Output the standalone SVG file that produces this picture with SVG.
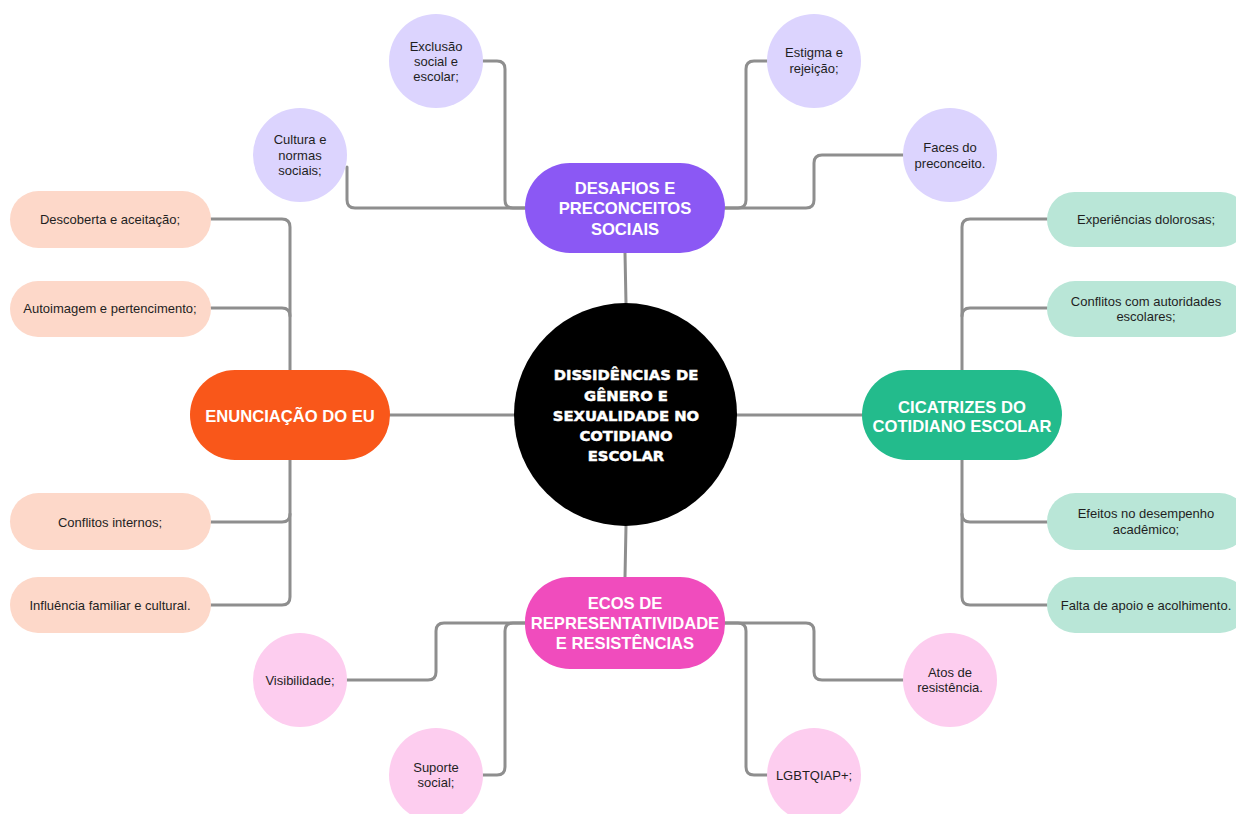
<svg xmlns="http://www.w3.org/2000/svg" width="1236" height="814" viewBox="0 0 1236 814">
<style>
.c{fill:none;stroke:#8e8e8e;stroke-width:3;stroke-linejoin:round;stroke-linecap:round}
.lt{font-family:"Liberation Sans",Arial,sans-serif;font-size:13px;fill:#1f1f1f;text-anchor:middle}
.bt{font-family:"Liberation Sans",Arial,sans-serif;font-size:16.6px;font-weight:bold;fill:#ffffff;text-anchor:middle}
.ct{font-family:"DejaVu Sans",sans-serif;font-size:14.8px;font-weight:bold;fill:#ffffff;stroke:#ffffff;stroke-width:0.5;text-anchor:middle}
.lav{fill:#DCD4FE}.pea{fill:#FDD8C9}.min{fill:#B9E6D7}.pnk{fill:#FDCDEF}
</style>
<rect width="1236" height="814" fill="#ffffff"/>
<g id="connectors">
<path class="c" d="M625,253 L626,303"/>
<path class="c" d="M626,526 L625,577"/>
<path class="c" d="M390,415 H514"/>
<path class="c" d="M737,415 H862"/>
<path class="c" d="M483,61 H497 Q505,61 505,69 V200 Q505,208 513,208 H525"/>
<path class="c" d="M347,167 V200 Q347,208 355,208 H525"/>
<path class="c" d="M767,61 H754 Q746,61 746,69 V200 Q746,208 738,208 H725"/>
<path class="c" d="M903,155 H822 Q814,155 814,163 V200 Q814,208 806,208 H725"/>
<path class="c" d="M211,219 H282 Q290,219 290,227 V370"/>
<path class="c" d="M211,308 H282 Q290,308 290,316"/>
<path class="c" d="M290,460 V514 Q290,522 282,522 H211"/>
<path class="c" d="M290,514 V597 Q290,605 282,605 H211"/>
<path class="c" d="M1047,219 H970 Q962,219 962,227 V370"/>
<path class="c" d="M1047,308 H970 Q962,308 962,316"/>
<path class="c" d="M962,460 V514 Q962,522 970,522 H1047"/>
<path class="c" d="M962,514 V597 Q962,605 970,605 H1047"/>
<path class="c" d="M347,680 H428 Q436,680 436,672 V631 Q436,623 444,623 H525"/>
<path class="c" d="M483,775 H497 Q505,775 505,767 V631 Q505,623 513,623 H525"/>
<path class="c" d="M725,623 H806 Q814,623 814,631 V672 Q814,680 822,680 H903"/>
<path class="c" d="M725,623 H738 Q746,623 746,631 V767 Q746,775 754,775 H767"/>
</g>
<g id="center">
<circle cx="625.5" cy="414.5" r="111.5" fill="#000000"/>
<text class="ct" x="626" y="380">DISSIDÊNCIAS DE</text>
<text class="ct" x="626" y="401">GÊNERO E</text>
<text class="ct" x="626" y="421">SEXUALIDADE NO</text>
<text class="ct" x="626" y="441">COTIDIANO</text>
<text class="ct" x="626" y="461">ESCOLAR</text>
</g>
<g id="desafios">
<rect x="525" y="163" width="200" height="90" rx="45" fill="#8B58F4"/>
<text class="bt" x="625" y="194">DESAFIOS E</text>
<text class="bt" x="625" y="214">PRECONCEITOS</text>
<text class="bt" x="625" y="235">SOCIAIS</text>
</g>
<g id="enunciacao">
<rect x="190" y="370" width="200" height="90" rx="45" fill="#F9571A"/>
<text class="bt" x="290" y="422">ENUNCIAÇÃO DO EU</text>
</g>
<g id="cicatrizes">
<rect x="862" y="370" width="200" height="90" rx="45" fill="#23BB8C"/>
<text class="bt" x="962" y="413">CICATRIZES DO</text>
<text class="bt" x="962" y="432">COTIDIANO ESCOLAR</text>
</g>
<g id="ecos">
<rect x="525" y="577" width="200" height="92" rx="45" fill="#F04CBD"/>
<text class="bt" x="625" y="609">ECOS DE</text>
<text class="bt" x="625" y="629">REPRESENTATIVIDADE</text>
<text class="bt" x="625" y="649">E RESISTÊNCIAS</text>
</g>
<g id="exclusao">
<circle class="lav" cx="436" cy="61" r="47"/>
<text class="lt" x="436" y="51">Exclusão</text>
<text class="lt" x="436" y="66">social e</text>
<text class="lt" x="436" y="81">escolar;</text>
</g>
<g id="cultura">
<circle class="lav" cx="300" cy="155" r="47"/>
<text class="lt" x="300" y="144">Cultura e</text>
<text class="lt" x="300" y="160">normas</text>
<text class="lt" x="300" y="175">sociais;</text>
</g>
<g id="estigma">
<circle class="lav" cx="814" cy="61" r="47"/>
<text class="lt" x="814" y="57">Estigma e</text>
<text class="lt" x="814" y="73">rejeição;</text>
</g>
<g id="faces">
<circle class="lav" cx="950" cy="155" r="47"/>
<text class="lt" x="950" y="152">Faces do</text>
<text class="lt" x="950" y="168">preconceito.</text>
</g>
<g id="descoberta">
<rect class="pea" x="10" y="191" width="201" height="57" rx="28.5"/>
<text class="lt" x="110" y="224">Descoberta e aceitação;</text>
</g>
<g id="autoimagem">
<rect class="pea" x="10" y="281" width="201" height="56" rx="28"/>
<text class="lt" x="110" y="313">Autoimagem e pertencimento;</text>
</g>
<g id="conflitos-internos">
<rect class="pea" x="10" y="493" width="201" height="57" rx="28.5"/>
<text class="lt" x="110" y="527">Conflitos internos;</text>
</g>
<g id="influencia">
<rect class="pea" x="10" y="577" width="201" height="56" rx="28"/>
<text class="lt" x="110" y="610">Influência familiar e cultural.</text>
</g>
<g id="experiencias">
<rect class="min" x="1047" y="192" width="201" height="55" rx="27.5"/>
<text class="lt" x="1146" y="224">Experiências dolorosas;</text>
</g>
<g id="conflitos-autoridades">
<rect class="min" x="1047" y="281" width="201" height="56" rx="28"/>
<text class="lt" x="1146" y="306">Conflitos com autoridades</text>
<text class="lt" x="1146" y="321">escolares;</text>
</g>
<g id="efeitos">
<rect class="min" x="1047" y="493" width="201" height="57" rx="28.5"/>
<text class="lt" x="1146" y="518">Efeitos no desempenho</text>
<text class="lt" x="1146" y="534">acadêmico;</text>
</g>
<g id="falta">
<rect class="min" x="1047" y="577" width="201" height="56" rx="28"/>
<text class="lt" x="1146" y="610">Falta de apoio e acolhimento.</text>
</g>
<g id="visibilidade">
<circle class="pnk" cx="300" cy="680" r="47"/>
<text class="lt" x="300" y="685">Visibilidade;</text>
</g>
<g id="suporte">
<circle class="pnk" cx="436" cy="775" r="47"/>
<text class="lt" x="436" y="772">Suporte</text>
<text class="lt" x="436" y="787">social;</text>
</g>
<g id="atos">
<circle class="pnk" cx="950" cy="680" r="47"/>
<text class="lt" x="950" y="677">Atos de</text>
<text class="lt" x="950" y="692">resistência.</text>
</g>
<g id="lgbt">
<circle class="pnk" cx="814" cy="775" r="47"/>
<text class="lt" x="814" y="780">LGBTQIAP+;</text>
</g>
</svg>
